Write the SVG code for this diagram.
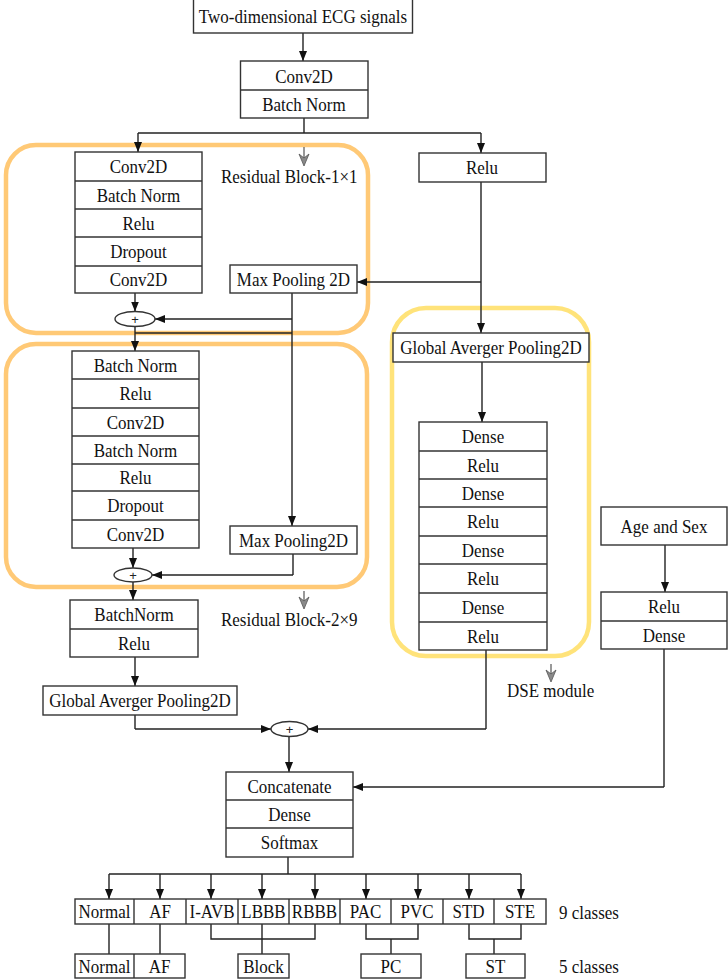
<svg xmlns="http://www.w3.org/2000/svg" width="728" height="980" viewBox="0 0 728 980">
<defs>
<style>
.b{fill:#fff;stroke:#333;stroke-width:1.4}
.d{stroke:#333;stroke-width:1.4;fill:none}
.t{font-family:"Liberation Serif","Times New Roman",serif;font-size:17px;fill:#111;text-anchor:middle}
.l{font-family:"Liberation Serif","Times New Roman",serif;font-size:17px;fill:#111}
.t,.l{transform-box:fill-box;transform-origin:center;transform:scaleY(1.12)}
.p{font-family:"Liberation Sans",Arial,sans-serif;font-size:13px;fill:#222;text-anchor:middle}
.c{stroke:#222;stroke-width:1.4;fill:none}
.ca{stroke:#222;stroke-width:1.4;fill:none;marker-end:url(#ah)}
.og{fill:none;stroke:#FFC976;stroke-width:4.5}
.yg{fill:none;stroke:#FFE37A;stroke-width:4.5}
.ga{fill:#8a8a8a;stroke:#555;stroke-width:0.8}
.gl{stroke:#555;stroke-width:1.2}
</style>
<marker id="ah" markerWidth="10" markerHeight="8" refX="10" refY="4" orient="auto" markerUnits="userSpaceOnUse">
<path d="M0,0 L10,4 L0,8 Z" fill="#111"/>
</marker>
</defs>
<rect width="728" height="980" fill="#fff"/>

<g id="group-frames">
<rect class="og" x="6" y="145" width="362" height="188" rx="30"/>
<rect class="og" x="6" y="344" width="361" height="243" rx="30"/>
<rect class="yg" x="392" y="308" width="197" height="348" rx="34"/>
</g>

<g id="connectors">
<line class="ca" x1="303" y1="33" x2="303" y2="61"/>
<polyline class="c" points="304,118 304,133"/>
<line class="c" x1="138" y1="133" x2="481" y2="133"/>
<line class="ca" x1="138" y1="133" x2="138" y2="152"/>
<line class="ca" x1="481" y1="133" x2="481" y2="153"/>
<line class="ca" x1="481" y1="182" x2="481" y2="333"/>
<line class="ca" x1="481" y1="282" x2="357" y2="282"/>
<line class="ca" x1="135" y1="293" x2="135" y2="311.5"/>
<line class="c" x1="292" y1="293" x2="292" y2="319"/>
<line class="ca" x1="292" y1="319" x2="155" y2="319"/>
<line class="ca" x1="292" y1="319" x2="292" y2="526"/>
<line class="ca" x1="135" y1="326.5" x2="135" y2="351"/>
<line class="c" x1="135" y1="333" x2="292" y2="333"/>
<line class="ca" x1="133" y1="548" x2="133" y2="568"/>
<polyline class="c" points="293,554 293,575"/>
<line class="ca" x1="293" y1="575" x2="152" y2="575"/>
<line class="ca" x1="133" y1="582" x2="133" y2="600"/>
<line class="ca" x1="135" y1="657" x2="135" y2="686"/>
<polyline class="c" points="135,715 135,729"/>
<line class="ca" x1="135" y1="729" x2="271" y2="729"/>
<polyline class="c" points="486,650 486,729"/>
<line class="ca" x1="486" y1="729" x2="308" y2="729"/>
<line class="ca" x1="289" y1="736.5" x2="289" y2="772"/>
<line class="ca" x1="482" y1="362" x2="482" y2="422"/>
<line class="ca" x1="665" y1="545" x2="665" y2="592"/>
<polyline class="c" points="664,649 664,787"/>
<line class="ca" x1="664" y1="787" x2="353" y2="787"/>
<line class="c" x1="288" y1="857" x2="288" y2="874"/>
<line class="c" x1="109" y1="874" x2="521" y2="874"/>
<line class="ca" x1="109" y1="874" x2="109" y2="899"/>
<line class="ca" x1="160" y1="874" x2="160" y2="899"/>
<line class="ca" x1="211" y1="874" x2="211" y2="899"/>
<line class="ca" x1="262" y1="874" x2="262" y2="899"/>
<line class="ca" x1="315" y1="874" x2="315" y2="899"/>
<line class="ca" x1="366" y1="874" x2="366" y2="899"/>
<line class="ca" x1="418" y1="874" x2="418" y2="899"/>
<line class="ca" x1="469" y1="874" x2="469" y2="899"/>
<line class="ca" x1="521" y1="874" x2="521" y2="899"/>
<line class="c" x1="109" y1="924" x2="109" y2="954"/>
<line class="c" x1="160" y1="924" x2="160" y2="954"/>
<polyline class="c" points="211,924 211,939 315,939 315,924"/>
<line class="c" x1="262" y1="924" x2="262" y2="954"/>
<polyline class="c" points="366,924 366,939 418,939 418,924"/>
<line class="c" x1="391" y1="939" x2="391" y2="954"/>
<polyline class="c" points="469,924 469,939 521,939 521,924"/>
<line class="c" x1="494" y1="939" x2="494" y2="954"/>
</g>

<g id="input">
<rect class="b" x="193.5" y="-1" width="219" height="34"/>
<text class="t" x="303" y="22">Two-dimensional ECG signals</text>
</g>

<g id="stem">
<rect class="b" x="240.5" y="61" width="127.5" height="57"/>
<line class="d" x1="240.5" y1="90" x2="368" y2="90"/>
<text class="t" x="304" y="82">Conv2D</text>
<text class="t" x="304" y="110">Batch Norm</text>
</g>

<g id="relu-top">
<rect class="b" x="419" y="153" width="127" height="29"/>
<text class="t" x="482" y="173">Relu</text>
</g>

<g id="res1-stack">
<rect class="b" x="75" y="152" width="127" height="141"/>
<line class="d" x1="75" y1="181" x2="202" y2="181"/>
<line class="d" x1="75" y1="209" x2="202" y2="209"/>
<line class="d" x1="75" y1="237" x2="202" y2="237"/>
<line class="d" x1="75" y1="266" x2="202" y2="266"/>
<text class="t" x="138.5" y="172.5">Conv2D</text>
<text class="t" x="138.5" y="201">Batch Norm</text>
<text class="t" x="138.5" y="229">Relu</text>
<text class="t" x="138.5" y="257.5">Dropout</text>
<text class="t" x="138.5" y="285.5">Conv2D</text>
</g>

<g id="maxpool1">
<rect class="b" x="230" y="265" width="127" height="28"/>
<text class="t" x="293.5" y="285">Max Pooling 2D</text>
</g>

<g id="add1">
<ellipse class="b" cx="135" cy="319" rx="20" ry="7.5"/>
<text class="p" x="135" y="323.5">+</text>
</g>

<g id="res1-label">
<line class="gl" x1="304" y1="147" x2="304" y2="158"/>
<path class="ga" d="M299,154 L304,166 L309,154 L304,158 Z"/>
<text class="l" x="221" y="182">Residual Block-1×1</text>
</g>

<g id="res2-stack">
<rect class="b" x="72" y="351" width="127" height="197"/>
<line class="d" x1="72" y1="379" x2="199" y2="379"/>
<line class="d" x1="72" y1="408" x2="199" y2="408"/>
<line class="d" x1="72" y1="436" x2="199" y2="436"/>
<line class="d" x1="72" y1="464" x2="199" y2="464"/>
<line class="d" x1="72" y1="491" x2="199" y2="491"/>
<line class="d" x1="72" y1="520" x2="199" y2="520"/>
<text class="t" x="135.5" y="371">Batch Norm</text>
<text class="t" x="135.5" y="399.5">Relu</text>
<text class="t" x="135.5" y="428">Conv2D</text>
<text class="t" x="135.5" y="456">Batch Norm</text>
<text class="t" x="135.5" y="483.5">Relu</text>
<text class="t" x="135.5" y="511.5">Dropout</text>
<text class="t" x="135.5" y="540">Conv2D</text>
</g>

<g id="maxpool2">
<rect class="b" x="230" y="526" width="127" height="28"/>
<text class="t" x="293.5" y="546">Max Pooling2D</text>
</g>

<g id="add2">
<ellipse class="b" cx="133" cy="575" rx="19" ry="7"/>
<text class="p" x="133" y="579.5">+</text>
</g>

<g id="res2-label">
<line class="gl" x1="304" y1="591" x2="304" y2="601"/>
<path class="ga" d="M299,597 L304,609 L309,597 L304,601 Z"/>
<text class="l" x="221" y="625">Residual Block-2×9</text>
</g>

<g id="bn-relu">
<rect class="b" x="70" y="600" width="128" height="57"/>
<line class="d" x1="70" y1="629" x2="198" y2="629"/>
<text class="t" x="134" y="620.5">BatchNorm</text>
<text class="t" x="134" y="649">Relu</text>
</g>

<g id="gap-left">
<rect class="b" x="43" y="686" width="194" height="29"/>
<text class="t" x="140" y="706">Global Averger Pooling2D</text>
</g>

<g id="add3">
<ellipse class="b" cx="289.5" cy="729" rx="18.5" ry="7.5"/>
<text class="p" x="289.5" y="733.5">+</text>
</g>

<g id="dse-gap">
<rect class="b" x="393" y="333" width="196" height="29"/>
<text class="t" x="491" y="353.5">Global Averger Pooling2D</text>
</g>

<g id="dse-stack">
<rect class="b" x="419" y="422" width="128" height="228"/>
<line class="d" x1="419" y1="451" x2="547" y2="451"/>
<line class="d" x1="419" y1="479" x2="547" y2="479"/>
<line class="d" x1="419" y1="507" x2="547" y2="507"/>
<line class="d" x1="419" y1="536" x2="547" y2="536"/>
<line class="d" x1="419" y1="564" x2="547" y2="564"/>
<line class="d" x1="419" y1="593" x2="547" y2="593"/>
<line class="d" x1="419" y1="622" x2="547" y2="622"/>
<text class="t" x="483" y="442.5">Dense</text>
<text class="t" x="483" y="471">Relu</text>
<text class="t" x="483" y="499">Dense</text>
<text class="t" x="483" y="527.5">Relu</text>
<text class="t" x="483" y="556">Dense</text>
<text class="t" x="483" y="584.5">Relu</text>
<text class="t" x="483" y="613.5">Dense</text>
<text class="t" x="483" y="642">Relu</text>
</g>

<g id="dse-label">
<line class="gl" x1="551" y1="664" x2="551" y2="674"/>
<path class="ga" d="M546,670 L551,682 L556,670 L551,674 Z"/>
<text class="l" x="507" y="696">DSE module</text>
</g>

<g id="age-sex">
<rect class="b" x="601" y="507" width="126" height="38"/>
<text class="t" x="664" y="532">Age and Sex</text>
</g>

<g id="meta-dense">
<rect class="b" x="601" y="592" width="126" height="57"/>
<line class="d" x1="601" y1="621" x2="727" y2="621"/>
<text class="t" x="664" y="612.5">Relu</text>
<text class="t" x="664" y="641">Dense</text>
</g>

<g id="head">
<rect class="b" x="226" y="772" width="127" height="85"/>
<line class="d" x1="226" y1="800" x2="353" y2="800"/>
<line class="d" x1="226" y1="828" x2="353" y2="828"/>
<text class="t" x="289.5" y="792">Concatenate</text>
<text class="t" x="289.5" y="820">Dense</text>
<text class="t" x="289.5" y="848.5">Softmax</text>
</g>

<g id="classes-9">
<rect class="b" x="75" y="899" width="471" height="25"/>
<line class="d" x1="134" y1="899" x2="134" y2="924"/>
<line class="d" x1="186" y1="899" x2="186" y2="924"/>
<line class="d" x1="238" y1="899" x2="238" y2="924"/>
<line class="d" x1="289" y1="899" x2="289" y2="924"/>
<line class="d" x1="340" y1="899" x2="340" y2="924"/>
<line class="d" x1="391" y1="899" x2="391" y2="924"/>
<line class="d" x1="443" y1="899" x2="443" y2="924"/>
<line class="d" x1="494" y1="899" x2="494" y2="924"/>
<text class="t" x="104.5" y="917.5">Normal</text>
<text class="t" x="160" y="917.5">AF</text>
<text class="t" x="212" y="917.5">I-AVB</text>
<text class="t" x="263.5" y="917.5">LBBB</text>
<text class="t" x="314.5" y="917.5">RBBB</text>
<text class="t" x="365.5" y="917.5">PAC</text>
<text class="t" x="417" y="917.5">PVC</text>
<text class="t" x="468.5" y="917.5">STD</text>
<text class="t" x="520" y="917.5">STE</text>
<text class="l" x="559" y="918">9 classes</text>
</g>

<g id="classes-5">
<rect class="b" x="75" y="954" width="110" height="24"/>
<line class="d" x1="134" y1="954" x2="134" y2="978"/>
<rect class="b" x="238" y="954" width="51" height="24"/>
<rect class="b" x="361" y="954" width="60" height="24"/>
<rect class="b" x="466" y="954" width="59" height="24"/>
<text class="t" x="104.5" y="972">Normal</text>
<text class="t" x="159.5" y="972">AF</text>
<text class="t" x="263.5" y="972">Block</text>
<text class="t" x="391" y="972">PC</text>
<text class="t" x="495.5" y="972">ST</text>
<text class="l" x="559" y="972">5 classes</text>
</g>
</svg>
